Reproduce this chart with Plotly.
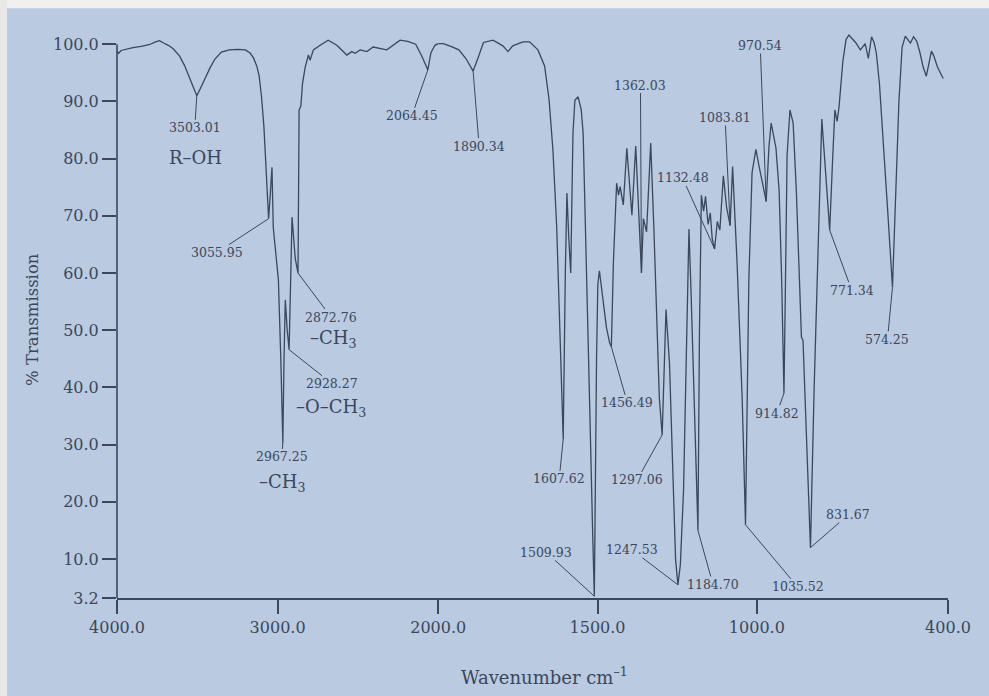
import numpy as np
import plotly.graph_objects as go

# ---------------- data ----------------
wavenumber = [
    4000, 3990, 3975, 3950, 3900, 3850, 3800, 3760, 3735, 3710, 3680, 3650, 3610, 3580,
    3550, 3525, 3503.01, 3480, 3455, 3420, 3390, 3350, 3300, 3250, 3200, 3170, 3150,
    3130, 3115, 3100, 3085, 3072, 3055.95, 3045, 3035, 3027, 3015, 2995, 2980, 2967.25,
    2960, 2952, 2940, 2928.27, 2910, 2890, 2872.76, 2866, 2855, 2845, 2828, 2808, 2798,
    2777, 2735, 2685, 2631, 2569, 2538, 2517, 2486, 2444, 2405, 2320, 2237, 2190, 2140,
    2100, 2064.45, 2045, 2020, 2000,
    1984, 1960, 1935, 1912, 1890.34, 1875, 1858, 1828, 1797, 1781, 1766, 1734, 1713,
    1687, 1666, 1652, 1640, 1628, 1617, 1607.62, 1601, 1596, 1590, 1584, 1577, 1571,
    1561, 1551, 1545, 1540, 1525, 1515, 1509.93, 1503, 1499, 1494, 1484, 1472, 1462,
    1456.49, 1450, 1440, 1434, 1429, 1419, 1408, 1392, 1380, 1362.03, 1356, 1346, 1333,
    1323, 1313, 1306, 1297.06, 1285, 1274, 1264, 1255, 1247.53, 1240, 1230, 1220, 1213,
    1206, 1195, 1184.70, 1180, 1174, 1167, 1161, 1153, 1146, 1140, 1132.48, 1124, 1116,
    1105, 1095, 1083.81, 1076, 1062, 1046, 1035.52, 1025, 1015, 1003, 993, 984, 970.54,
    962, 955, 940, 930, 922, 914.82, 910, 905, 896, 886, 876, 866, 860, 855, 845, 831.67,
    820, 808, 796, 784, 771.34, 762, 755, 748, 742, 730, 720, 711, 700, 690, 675, 668,
    660, 650, 640, 632, 625, 615, 605, 590, 574.25, 564, 554, 544, 534, 526, 518, 508,
    498, 488, 478, 468, 458, 452, 445, 433, 415,
]
transmission = [
    98.8, 98.4, 98.9, 99.1, 99.4, 99.6, 99.9, 100.4, 100.6, 100.2, 99.8, 99.2, 97.9, 96.3,
    94.2, 92.2, 91.0, 92.3, 93.9, 95.9, 97.4, 98.6, 99.0, 99.1, 99.0, 98.4, 97.6,
    96.2, 94.5, 90.8, 85.5, 78.5, 69.5, 74.0, 78.5, 68.0, 64.0, 58.8, 45.0, 30.3,
    45.0, 55.3, 50.0, 46.6, 69.8, 62.5, 60.0, 88.5, 89.2, 93.1, 96.0, 98.1, 97.2,
    99.0, 99.8, 100.7, 99.8, 98.1, 98.7, 98.4, 99.0, 98.7, 99.5, 99.0, 100.7, 100.5, 100.0,
    97.8, 95.5, 98.5, 99.8, 100.1,
    100.1, 99.6, 99.0, 97.4, 95.3, 97.6, 100.3, 100.7, 99.7, 98.7, 99.7, 100.4, 100.4,
    99.0, 96.2, 90.3, 81.6, 68.0, 50.0, 31.0, 60.0, 74.0, 66.0, 60.0, 84.4, 90.2,
    90.8, 88.5, 84.4, 73.6, 38.0, 14.0, 3.5, 45.0, 58.0, 60.4, 56.0, 50.5, 47.8,
    47.1, 62.0, 75.7, 73.6, 75.1, 71.9, 81.8, 70.1, 82.2, 60.0, 69.5, 67.2, 82.7,
    67.7, 50.0, 38.2, 31.7, 53.6, 44.1, 26.5, 10.0, 5.5, 9.0, 22.0, 50.0, 67.7,
    55.9, 32.3, 15.0, 50.0, 73.6, 70.8, 73.4, 68.5, 70.5, 66.0, 64.2, 69.0, 67.5,
    77.0, 71.5, 68.3, 78.6, 61.8, 38.2, 16.0, 58.8, 77.5, 81.6, 78.7, 76.0, 72.5,
    82.0, 86.2, 81.9, 74.4, 58.8, 39.0, 58.8, 80.6, 88.5, 86.2, 74.4, 58.8, 48.8, 48.2, 33.8, 12.0,
    40.1, 65.1, 86.9, 77.5, 67.5, 80.0, 88.5, 86.5, 89.0, 97.0, 100.8, 101.6, 101.0, 100.3, 99.0, 99.6,
    100.1, 97.5, 101.3, 100.3, 98.5, 93.0, 85.0, 71.5, 57.5, 74.4, 90.0, 99.5, 101.4, 100.8, 100.2, 101.3,
    100.5, 98.5, 96.0, 94.4, 97.5, 98.8, 98.0, 96.0, 94.0,
]

x_ticks_left = [4000, 3000]
x_ticks_right = [2000, 1500, 1000, 400]
y_ticks = [3.2, 10, 20, 30, 40, 50, 60, 70, 80, 90, 100]

peak_wavenumbers = [3503.01, 3055.95, 2967.25, 2928.27, 2872.76, 2064.45, 1890.34,
                    1607.62, 1509.93, 1456.49, 1362.03, 1297.06, 1247.53, 1184.70,
                    1132.48, 1083.81, 1035.52, 970.54, 914.82, 831.67, 771.34, 574.25]
# label offsets (pixels) of each peak label from its peak
label_dx = [-2, -52, -1, 43, 33, -16, 6, -4, -48, 16, -1, -25, -46, 15, -32, -5, 52, -6, -7, 38, 22, -5]
label_dy = [32, 34, 14, 34, 44, 46, 75, 40, -44, 56, -188, 45, -35, 54, -71, -108, 62, -156, 20, -33, 60, 52]

group_names = ["R–OH", "–CH<sub>3</sub>", "–O–CH<sub>3</sub>", "–CH<sub>3</sub>"]
group_peaks = [3503.01, 2967.25, 2928.27, 2872.76]
group_dx = [-1, 0, 42, 35]
group_dy = [62, 40, 58, 66]

# ---------------- styling ----------------
BG = "#b9cae1"
INK = "#3b475a"
FONT = "DejaVu Serif"

wn = np.array(wavenumber, dtype=float)
tr = np.array(transmission, dtype=float)
left = wn >= 2000
right = wn <= 2000

def peak_T(w):
    return float(np.interp(w, wn[::-1], tr[::-1]))

fig = go.Figure()
fig.add_trace(go.Scatter(x=wn[left], y=tr[left], xaxis="x", yaxis="y", mode="lines",
                         line=dict(color=INK, width=1.3), showlegend=False, hoverinfo="skip"))
fig.add_trace(go.Scatter(x=wn[right], y=tr[right], xaxis="x2", yaxis="y", mode="lines",
                         line=dict(color=INK, width=1.3), showlegend=False, hoverinfo="skip"))

annotations = []
for w, dx, dy in zip(peak_wavenumbers, label_dx, label_dy):
    annotations.append(dict(
        x=w, y=peak_T(w), xref="x" if w >= 2000 else "x2", yref="y",
        text=f"{w:.2f}", showarrow=True, arrowhead=0, arrowwidth=1, arrowcolor=INK,
        ax=dx, ay=dy, font=dict(family=FONT, size=12.5, color=INK), borderpad=0,
    ))
for name, w, dx, dy in zip(group_names, group_peaks, group_dx, group_dy):
    annotations.append(dict(
        x=w, y=peak_T(w), xref="x" if w >= 2000 else "x2", yref="y",
        text=name, showarrow=False, xshift=dx, yshift=-dy,
        font=dict(family=FONT, size=18, color=INK),
    ))
annotations.append(dict(x=-0.101, y=0.487, xref="paper", yref="paper", text="% Transmission",
                        textangle=-90, showarrow=False, xanchor="center", yanchor="middle",
                        font=dict(family=FONT, size=16.5, color=INK)))
annotations.append(dict(x=0.515, y=-0.1366, xref="paper", yref="paper", text="Wavenumber cm<sup>–1</sup>",
                        showarrow=False, xanchor="center", yanchor="middle",
                        font=dict(family=FONT, size=18, color=INK)))

shapes = [
    dict(type="rect", xref="paper", yref="paper", x0=-0.2, x1=1.1, y0=1.0329, y1=1.06,
         fillcolor="#f1f0ee", line=dict(width=0), layer="below"),
    dict(type="rect", xref="paper", yref="paper", x0=-0.2, x1=-0.1323, y0=-0.25, y1=1.06,
         fillcolor="#e9e8e6", line=dict(width=0), layer="below"),
    dict(type="line", xref="paper", yref="y", x0=0, x1=0, y0=3.2, y1=100,
         line=dict(color=INK, width=1.6)),
]

axis_common = dict(ticks="outside", ticklen=14, tickwidth=1.5, tickcolor=INK,
                   showline=True, linecolor=INK, linewidth=1.6, showgrid=False, zeroline=False,
                   tickfont=dict(family=FONT, size=16, color=INK))

split = 0.3865
fig.update_layout(
    width=989, height=696,
    margin=dict(l=117, r=41, t=27, b=98, autoexpand=False),
    paper_bgcolor=BG, plot_bgcolor=BG,
    xaxis=dict(domain=[0, split], range=[4000, 2000], anchor="y",
               tickvals=x_ticks_left, ticktext=[f"{v:.1f}" for v in x_ticks_left], **axis_common),
    xaxis2=dict(domain=[split, 1], range=[2000, 400], anchor="y",
                tickvals=x_ticks_right, ticktext=[f"{v:.1f}" for v in x_ticks_right], **axis_common),
    yaxis=dict(range=[3.2, 103], tickvals=y_ticks, ticktext=[f"{v:.1f}" for v in y_ticks],
               ticks="outside", ticklen=14, tickwidth=1.5, tickcolor=INK, showline=False,
               showgrid=False, zeroline=False, tickfont=dict(family=FONT, size=16, color=INK)),
    annotations=annotations,
    shapes=shapes,
)

fig.write_html("out.html")
